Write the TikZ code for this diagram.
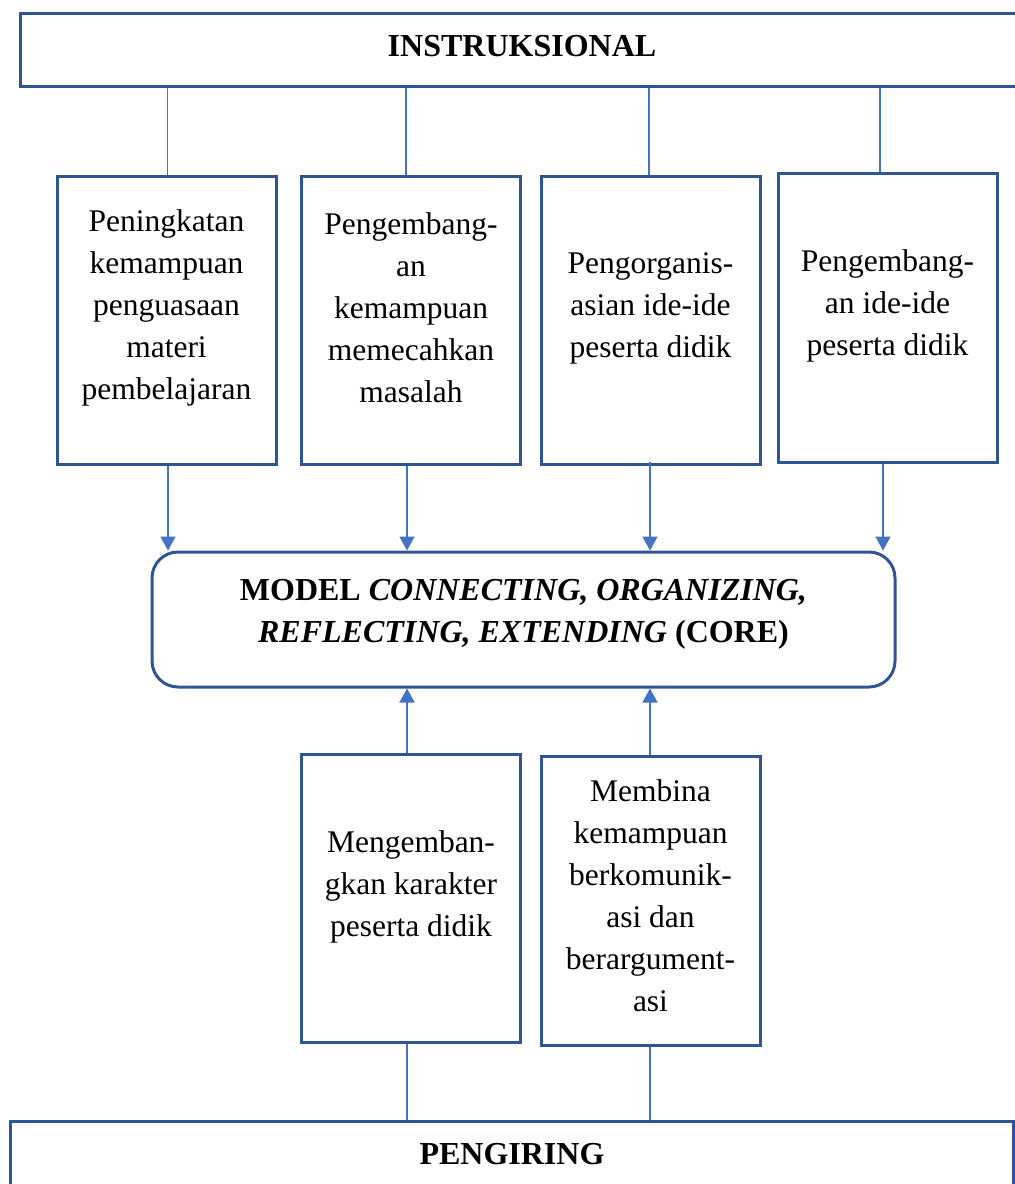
\documentclass[tikz,border=0pt]{standalone}
\usepackage{fontspec}
\setmainfont{Liberation Serif}
\usetikzlibrary{arrows.meta}
\definecolor{boxblue}{HTML}{2F5597}
\definecolor{linkblue}{HTML}{4472C4}
\begin{document}
\begin{tikzpicture}[x=0.5pt,y=-0.5pt,
  frame/.style={draw=boxblue,line width=1.5pt,rectangle,inner sep=0pt},
  stepbox/.style={frame,minimum width=109.5pt,minimum height=144pt},
  label/.style={align=center,font=\fontsize{15.75pt}{21pt}\selectfont,inner sep=0pt},
  title/.style={label,font=\fontsize{16pt}{21pt}\selectfont\bfseries},
  link/.style={draw=linkblue,line width=0.8pt},
  arrowlink/.style={link,-{Triangle[width=7.5pt,length=7pt]}}]
\useasboundingbox (0,0) rectangle (1014,1184);

% header and footer bars
\node[frame,minimum width=505pt,minimum height=36.5pt] (top) at (525,49.5) {};
\node[title] (toptext) at (522,46) {INSTRUKSIONAL};
\node[frame,minimum width=501.5pt,minimum height=39.5pt] (bottom) at (511.5,1160.5) {};
\node[title] (bottomtext) at (512,1154) {PENGIRING};

% central model box
\node[frame,rounded corners=13pt,minimum width=371.5pt,minimum height=67.5pt] (core) at (523.5,619.5) {};
\node[title] (coretext) at (523.5,614)
  {MODEL \textit{CONNECTING, ORGANIZING,}\\\textit{REFLECTING, EXTENDING} (CORE)};

% upper row of boxes
\node[stepbox] (b1) at (166.5,320) {};
\node[stepbox] (b2) at (411,320) {};
\node[stepbox] (b3) at (650.5,320) {};
\node[stepbox,minimum height=144.5pt] (b4) at (887.5,317.5) {};
\node[label] (t1) at (166.5,308) {Peningkatan\\kemampuan\\penguasaan\\materi\\pembelajaran};
\node[label] (t2) at (411,308) {Pengembang-\\an\\kemampuan\\memecahkan\\masalah};
\node[label] (t3) at (650.5,308.5) {Pengorganis-\\asian ide-ide\\peserta didik};
\node[label] (t4) at (887.5,306) {Pengembang-\\an ide-ide\\peserta didik};

% lower row of boxes
\node[stepbox] (b5) at (411,898) {};
\node[stepbox,minimum height=144.5pt] (b6) at (650.5,900.5) {};
\node[label] (t5) at (411,886.5) {Mengemban-\\gkan karakter\\peserta didik};
\node[label] (t6) at (650.5,896) {Membina\\kemampuan\\berkomunik-\\asi dan\\berargument-\\asi};

% header to upper boxes
\draw[link] ([xshift=0.5pt]b1.north) -- ([xshift=0.5pt]b1.north |- top.south);
\draw[link] ([xshift=-2.5pt]b2.north) -- ([xshift=-2.5pt]b2.north |- top.south);
\draw[link] ([xshift=-0.75pt]b3.north) -- ([xshift=-0.75pt]b3.north |- top.south);
\draw[link] ([xshift=-3.75pt]b4.north) -- ([xshift=-3.75pt]b4.north |- top.south);

% upper boxes into the model
\draw[arrowlink] ([xshift=0.75pt]b1.south) -- ([xshift=0.75pt]b1.south |- core.north);
\draw[arrowlink] ([xshift=-2pt]b2.south) -- ([xshift=-2pt]b2.south |- core.north);
\draw[arrowlink] ([xshift=-0.25pt,yshift=2pt]b3.south) -- ([xshift=-0.25pt]b3.south |- core.north);
\draw[arrowlink] ([xshift=-2.25pt]b4.south) -- ([xshift=-2.25pt]b4.south |- core.north);

% lower boxes into the model
\draw[arrowlink] ([xshift=-2pt]b5.north) -- ([xshift=-2pt]b5.north |- core.south);
\draw[arrowlink] ([xshift=-0.25pt]b6.north) -- ([xshift=-0.25pt]b6.north |- core.south);

% footer to lower boxes
\draw[link] ([xshift=-2pt]b5.south) -- ([xshift=-2pt]b5.south |- bottom.north);
\draw[link] ([xshift=-0.25pt]b6.south) -- ([xshift=-0.25pt]b6.south |- bottom.north);
\end{tikzpicture}
\end{document}
